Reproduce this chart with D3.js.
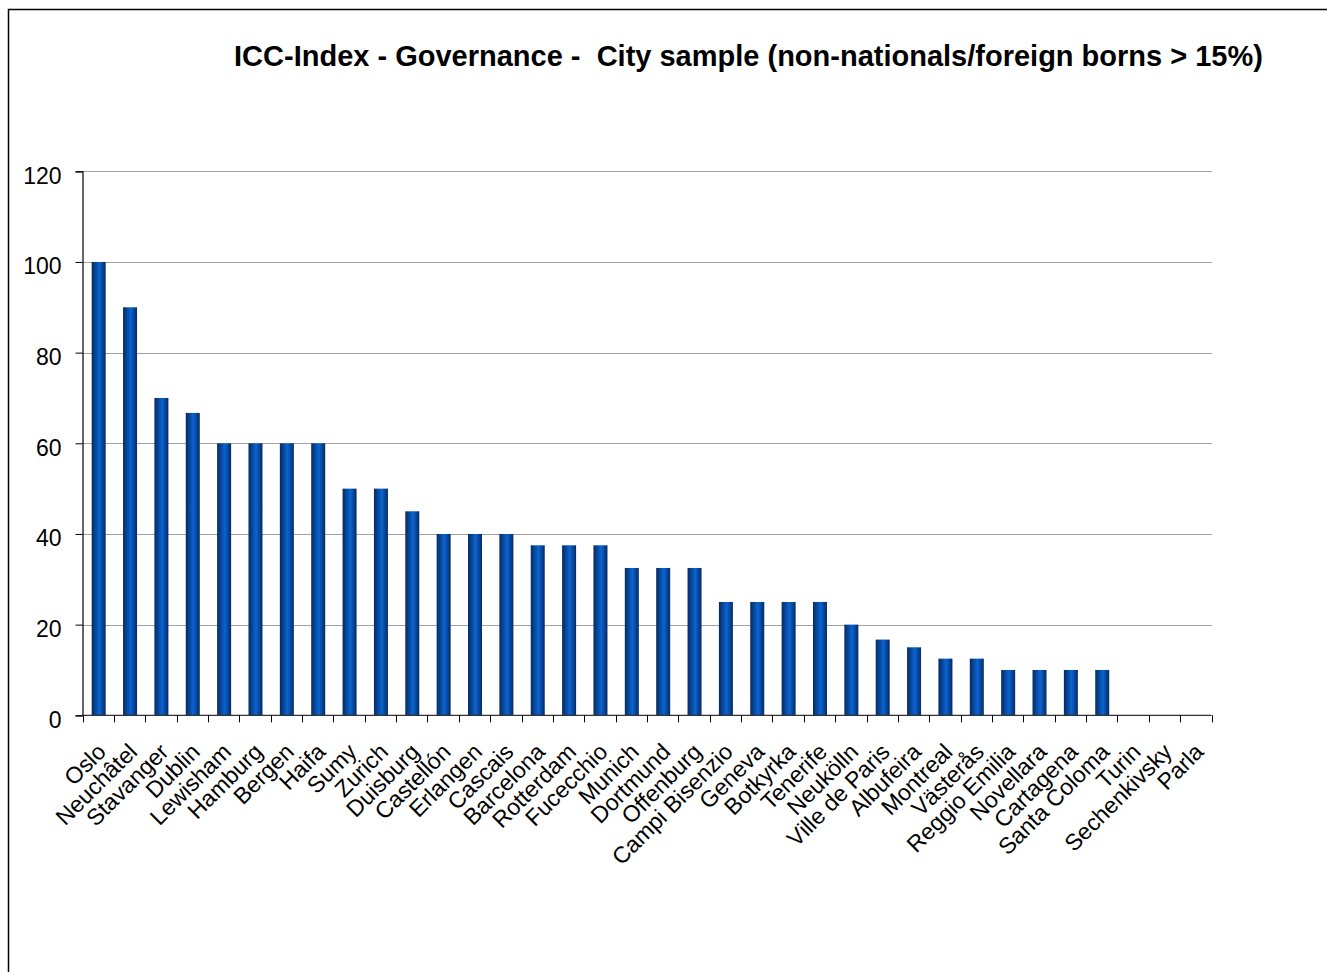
<!DOCTYPE html>
<html>
<head>
<meta charset="utf-8">
<script src="https://cdn.jsdelivr.net/npm/d3@7"></script>
<style>
  html, body { margin: 0; padding: 0; background: #fff; }
  svg { display: block; }
  text { font-family: Arial, "Liberation Sans", sans-serif; }
</style>
</head>
<body>
<svg id="chart" width="1327" height="972"></svg>
<script>
// City scores, in chart order
const cities = ["Oslo", "Neuchâtel", "Stavanger", "Dublin", "Lewisham", "Hamburg", "Bergen", "Haifa",
  "Sumy", "Zurich", "Duisburg", "Castellón", "Erlangen", "Cascais", "Barcelona", "Rotterdam",
  "Fucecchio", "Munich", "Dortmund", "Offenburg", "Campi Bisenzio", "Geneva", "Botkyrka", "Tenerife",
  "Neukölln", "Ville de Paris", "Albufeira", "Montreal", "Västerås", "Reggio Emilia", "Novellara",
  "Cartagena", "Santa Coloma", "Turin", "Sechenkivsky", "Parla"];
const scores = [100, 90, 70, 66.7, 60, 60, 60, 60,
  50, 50, 45, 40, 40, 40, 37.5, 37.5,
  37.5, 32.5, 32.5, 32.5, 25, 25, 25, 25,
  20, 16.7, 15, 12.5, 12.5, 10, 10,
  10, 10, 0, 0, 0];
const yTicks = [0, 20, 40, 60, 80, 100, 120];
const title = "ICC-Index - Governance -  City sample (non-nationals/foreign borns > 15%)";

const svg = d3.select("#chart");

// outer frame (right and bottom edges run past the page)
svg.append("rect")
  .attr("x", 8.5).attr("y", 9.5)
  .attr("width", 1340).attr("height", 990)
  .attr("fill", "none").attr("stroke", "#000").attr("stroke-width", 1.5);

const plot = { left: 82.5, right: 1211.5, top: 171.3, bottom: 715.3 };

const x = d3.scaleBand().domain(cities).range([plot.left, plot.right]).paddingInner(0).paddingOuter(0);
const y = d3.scaleLinear().domain([0, 120]).range([plot.bottom, plot.top]);

// bar shading: dark edges, bright centre
const defs = svg.append("defs");
const grad = defs.append("linearGradient").attr("id", "barFill")
  .attr("x1", "0%").attr("x2", "100%").attr("y1", "0%").attr("y2", "0%");
grad.append("stop").attr("offset", "0%").attr("stop-color", "#062a62");
grad.append("stop").attr("offset", "55%").attr("stop-color", "#0a64d2");
grad.append("stop").attr("offset", "100%").attr("stop-color", "#062a62");

// gridlines
svg.append("g")
  .selectAll("line")
  .data(yTicks.filter(d => d > 0))
  .join("line")
  .attr("x1", plot.left).attr("x2", plot.right)
  .attr("y1", d => Math.round(y(d)) + 0.5).attr("y2", d => Math.round(y(d)) + 0.5)
  .attr("stroke", "#444").attr("stroke-width", 1).attr("stroke-dasharray", "1,1");

// bars
const barW = 14;
svg.append("g")
  .selectAll("rect")
  .data(cities.map((c, i) => ({ c, v: scores[i] })))
  .join("rect")
  .attr("x", d => x(d.c) + x.bandwidth() / 2 - barW / 2 + 0.5)
  .attr("width", barW)
  .attr("y", d => y(d.v))
  .attr("height", d => y(0) - y(d.v))
  .attr("fill", "url(#barFill)");

// y axis
const yAxis = d3.axisLeft(y).tickValues(yTicks).tickSize(7).tickPadding(14).tickFormat(d3.format("d"));
const gy = svg.append("g").attr("transform", `translate(${plot.left},0)`).call(yAxis);
gy.select(".domain").attr("stroke", "#000").attr("stroke-width", 1.2);
gy.selectAll(".tick line").attr("stroke", "#000");
gy.selectAll(".tick text").attr("font-size", 23).attr("fill", "#000").attr("dy", "0.52em")
  .attr("font-family", "Arial, 'Liberation Sans', sans-serif");

// x axis: ticks at band boundaries
svg.append("line")
  .attr("x1", plot.left).attr("x2", plot.right)
  .attr("y1", plot.bottom).attr("y2", plot.bottom)
  .attr("stroke", "#333").attr("stroke-width", 1.2);
const bounds = cities.map(c => x(c)).concat([plot.right]);
svg.append("g").selectAll("line")
  .data(bounds)
  .join("line")
  .attr("x1", d => Math.round(d) + 0.5).attr("x2", d => Math.round(d) + 0.5)
  .attr("y1", plot.bottom).attr("y2", plot.bottom + 7)
  .attr("stroke", "#000");

// category labels, rotated
svg.append("g").selectAll("text")
  .data(cities)
  .join("text")
  .attr("transform", d => `translate(${x(d) + x.bandwidth() / 2 + 9},${plot.bottom + 38}) rotate(-45)`)
  .attr("text-anchor", "end")
  .attr("font-size", 23)
  .attr("fill", "#000")
  .text(d => d);

// title
svg.append("text")
  .attr("x", 748.5).attr("y", 66)
  .attr("text-anchor", "middle")
  .attr("font-size", 29).attr("font-weight", "bold")
  .attr("xml:space", "preserve")
  .style("white-space", "pre")
  .text(title);
</script>
</body>
</html>
